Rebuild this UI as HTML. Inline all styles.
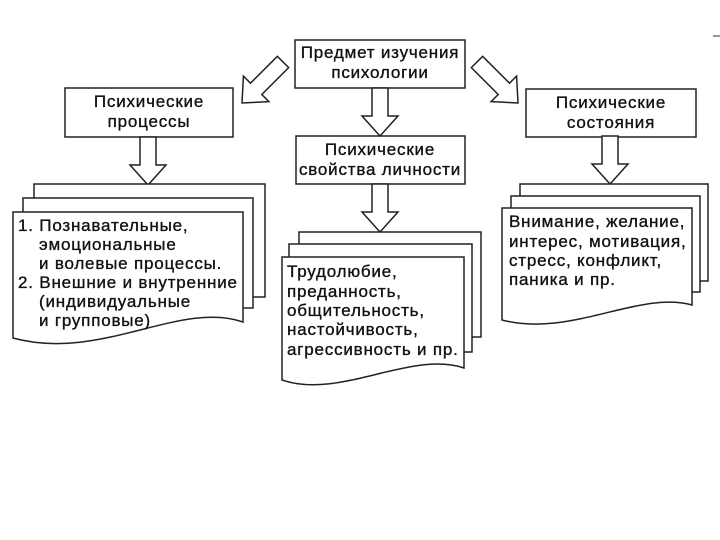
<!DOCTYPE html>
<html><head><meta charset="utf-8"><style>
html,body{margin:0;padding:0;background:#fff;width:720px;height:540px;overflow:hidden}
svg{display:block}
text{font-family:"Liberation Sans",sans-serif;font-size:17px;letter-spacing:0.8px;fill:#111;stroke:#111;stroke-width:0.35}
</style></head><body>
<svg width="720" height="540" viewBox="0 0 720 540" xmlns="http://www.w3.org/2000/svg">
<defs>
<path id="arr" d="M-8,-48 L8,-48 L8,-20 L18,-20 L0,0 L-18,-20 L-8,-20 Z"/>
<path id="arrL" d="M-8,-58 L8,-58 L8,-20 L18,-20 L0,0 L-18,-20 L-8,-20 Z"/>
</defs>
<g fill="#fff" stroke="#222" stroke-width="1.5">
<rect x="295" y="40" width="170" height="48"/>
<rect x="65" y="88" width="168" height="49"/>
<rect x="296" y="136" width="169" height="48"/>
<rect x="526" y="89" width="170" height="48"/>
<use href="#arr" transform="translate(148,185)"/>
<use href="#arr" transform="translate(380,136)"/>
<use href="#arr" transform="translate(380,232)"/>
<use href="#arr" transform="translate(610,184)"/>
<use href="#arrL" transform="translate(242,103) rotate(45)"/>
<use href="#arrL" transform="translate(518,103) rotate(-45)"/>
<rect x="34" y="184" width="231" height="113"/>
<rect x="23" y="198" width="230" height="110"/>
<path d="M13,212 H243 V322 C180,300 100,362 13,338 Z"/>
<rect x="299" y="232" width="182" height="105"/>
<rect x="289" y="244" width="183" height="108"/>
<path d="M282,257 H464 V368 C410,350 340,400 282,380 Z"/>
<rect x="520" y="184" width="188" height="97"/>
<rect x="511" y="196" width="189" height="96"/>
<path d="M502,208 H692 V305 C640,290 570,338 502,320 Z"/>
</g>
<line x1="713" y1="36" x2="720" y2="36" stroke="#333" stroke-width="1"/>
<g text-anchor="middle">
<text x="380" y="58">Предмет изучения</text>
<text x="380" y="78">психологии</text>
<text x="149" y="107">Психические</text>
<text x="149" y="127">процессы</text>
<text x="380" y="155">Психические</text>
<text x="380" y="175">свойства личности</text>
<text x="611" y="108">Психические</text>
<text x="611" y="128">состояния</text>
</g>
<text x="18" y="231">1. Познавательные,</text>
<text x="39" y="250">эмоциональные</text>
<text x="39" y="269">и волевые процессы.</text>
<text x="18" y="288">2. Внешние и внутренние</text>
<text x="39" y="307">(индивидуальные</text>
<text x="39" y="326">и групповые)</text>
<text x="287" y="277">Трудолюбие,</text>
<text x="287" y="297">преданность,</text>
<text x="287" y="316">общительность,</text>
<text x="287" y="335">настойчивость,</text>
<text x="287" y="355">агрессивность и пр.</text>
<text x="509" y="227">Внимание, желание,</text>
<text x="509" y="247">интерес, мотивация,</text>
<text x="509" y="266">стресс, конфликт,</text>
<text x="509" y="285">паника и пр.</text>
</svg>
</body></html>
